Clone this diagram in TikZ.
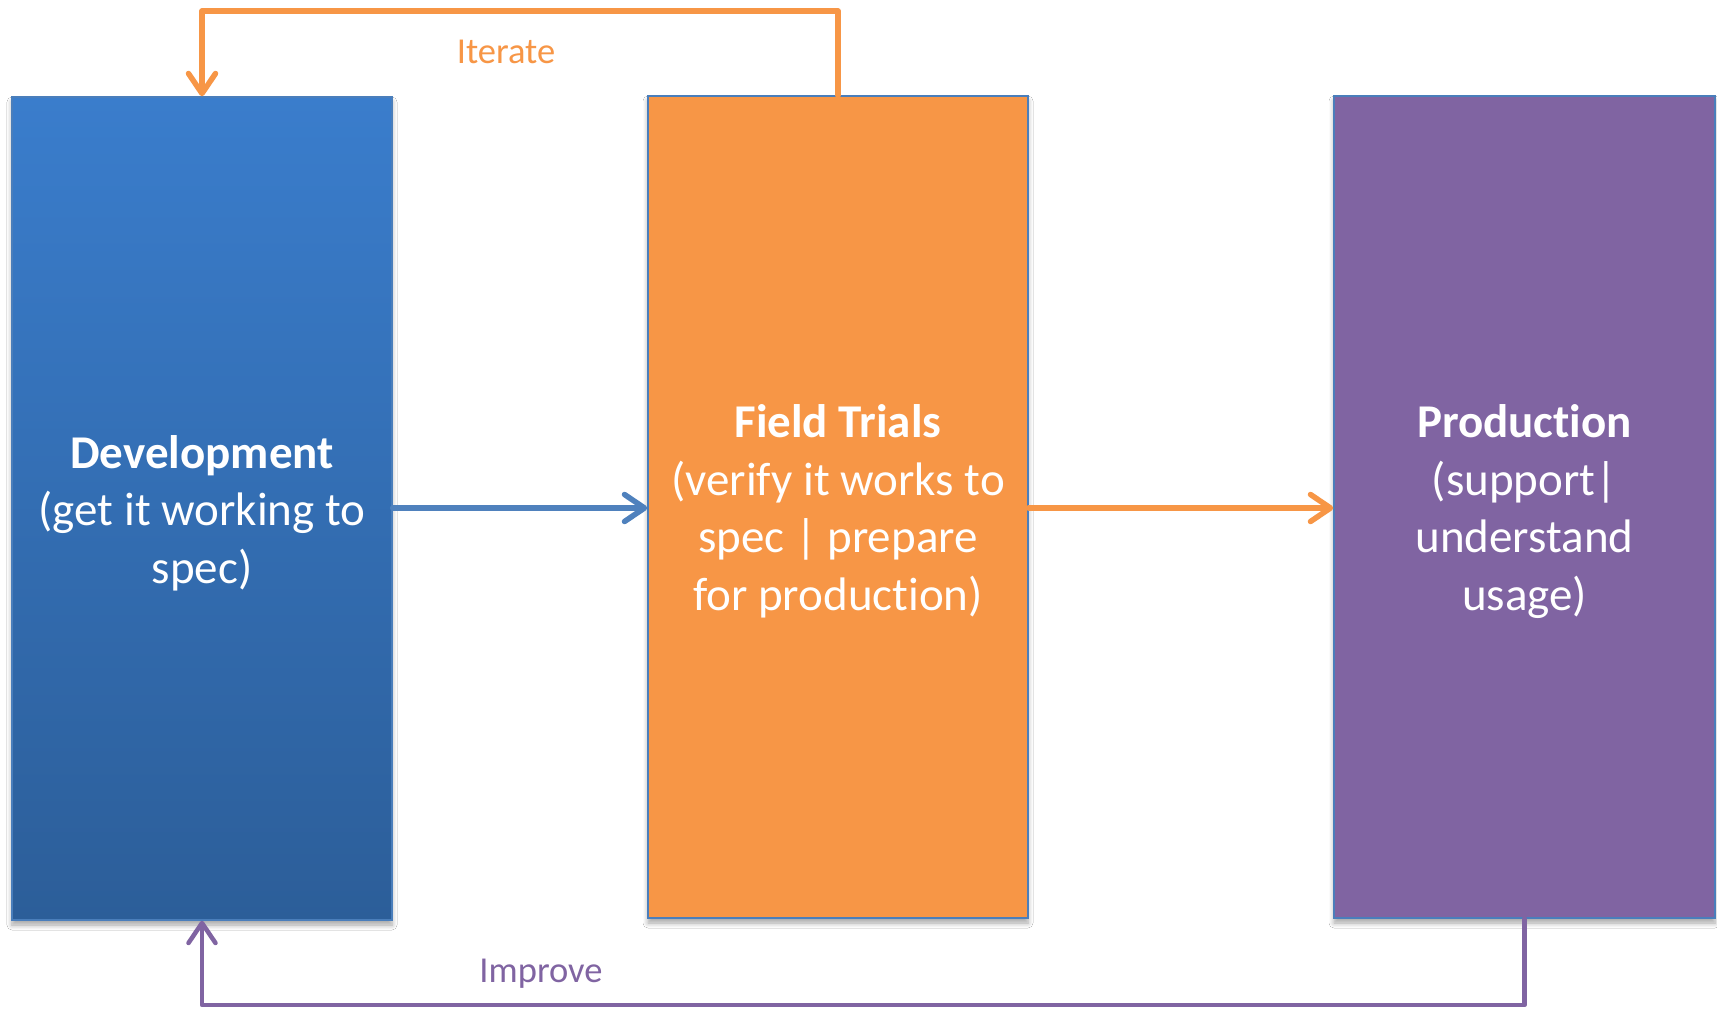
\documentclass[tikz,border=0pt]{standalone}
\usepackage{fontspec}
\setmainfont{Carlito}[Ligatures=NoCommon]
\usetikzlibrary{arrows.meta,shadows.blur}
\definecolor{devtop}{HTML}{3A7DCC}
\definecolor{devbot}{HTML}{2C5E99}
\definecolor{orng}{HTML}{F79646}
\definecolor{purp}{HTML}{8064A2}
\definecolor{blu}{HTML}{4F81BD}
\definecolor{edge}{HTML}{4A7EBB}
\tikzset{
  box/.style={draw=edge, line width=1.5pt, minimum width=380pt, minimum height=822pt,
    inner sep=0pt,
    blur shadow={shadow xshift=0pt, shadow yshift=-5pt, shadow opacity=35, shadow blur steps=6, shadow blur radius=5pt}},
  boxtext/.style={text=white, align=center, inner sep=0pt,
    font=\fontsize{47}{57.5}\selectfont},
  conn/.style={line width=5.5pt, line cap=round, line join=round,
    -{Straight Barb[length=20pt,width=27pt,line cap=round,line join=round]}},
  lbl/.style={font=\fontsize{36.5}{44}\selectfont},
}
\begin{document}
\begin{tikzpicture}[x=1pt,y=-1pt]
\useasboundingbox (0,0) rectangle (1717,1010);
\fill[white] (0,0) rectangle (1717,1010);
\node[box, top color=devtop, bottom color=devbot, minimum height=823pt] (dev) at (202,508.5) {};
\node[box, fill=orng] (field) at (838,507) {};
\node[box, fill=purp, minimum width=381pt] (prod) at (1524.5,507) {};
\node[boxtext] (devt) at (202,513) {\textbf{Development}\\(get it working to\\spec)};
\node[boxtext] (fieldt) at (838,511.5) {\textbf{Field Trials}\\(verify it works to\\spec | prepare\\for production)};
\node[boxtext] (prodt) at (1524.5,511.5) {\textbf{Production}\\(support|\\understand\\usage)};
\draw[conn, blu] (dev.east |- 0,508) -- (field.west |- 0,508);
\draw[conn, orng] (field.east |- 0,508) -- (prod.west |- 0,508);
\coordinate (itop) at (838,11);
\coordinate (ibot) at (1524.5,1005);
\draw[conn, orng] (field.north) -- (itop) -- (itop -| dev.north) -- (dev.north);
\draw[conn, purp, line width=4.5pt] (prod.south) -- (ibot) -- (ibot -| dev.south) -- (dev.south);
\node[lbl, text=orng] (iter) at (506,52) {Iterate};
\node[lbl, text=purp] (impr) at (541,974) {Improve};
\end{tikzpicture}
\end{document}
